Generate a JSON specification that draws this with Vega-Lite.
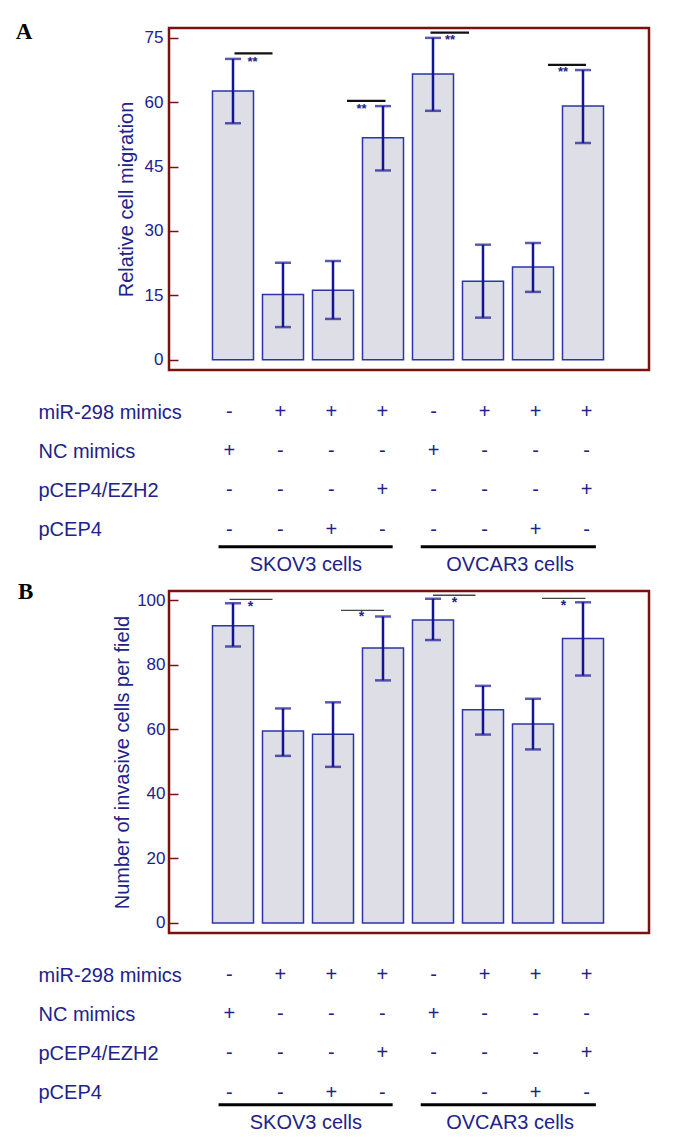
{
  "$schema": "https://vega.github.io/schema/vega-lite/v6.json",
  "background": "white",
  "padding": {"left": 14, "top": 19, "right": 10, "bottom": 10},
  "config": {"font": "Liberation Sans", "view": {"stroke": null}},
  "datasets": {
    "migration": [
      {"bar": 1, "cells": "SKOV3", "mean": 62.6, "lo": 55.1, "hi": 70.1},
      {"bar": 2, "cells": "SKOV3", "mean": 15.2, "lo": 7.6, "hi": 22.6},
      {"bar": 3, "cells": "SKOV3", "mean": 16.2, "lo": 9.5, "hi": 23.0},
      {"bar": 4, "cells": "SKOV3", "mean": 51.7, "lo": 44.1, "hi": 59.1},
      {"bar": 5, "cells": "OVCAR3", "mean": 66.6, "lo": 58.0, "hi": 75.0},
      {"bar": 6, "cells": "OVCAR3", "mean": 18.3, "lo": 9.8, "hi": 26.8},
      {"bar": 7, "cells": "OVCAR3", "mean": 21.6, "lo": 15.8, "hi": 27.2},
      {"bar": 8, "cells": "OVCAR3", "mean": 59.1, "lo": 50.5, "hi": 67.5}
    ],
    "invasion": [
      {"bar": 1, "cells": "SKOV3", "mean": 92.1, "lo": 85.7, "hi": 99.1},
      {"bar": 2, "cells": "SKOV3", "mean": 59.5, "lo": 51.8, "hi": 66.5},
      {"bar": 3, "cells": "SKOV3", "mean": 58.5, "lo": 48.4, "hi": 68.4},
      {"bar": 4, "cells": "SKOV3", "mean": 85.2, "lo": 75.2, "hi": 95.0},
      {"bar": 5, "cells": "OVCAR3", "mean": 93.9, "lo": 87.7, "hi": 100.5},
      {"bar": 6, "cells": "OVCAR3", "mean": 66.1, "lo": 58.4, "hi": 73.5},
      {"bar": 7, "cells": "OVCAR3", "mean": 61.7, "lo": 53.8, "hi": 69.5},
      {"bar": 8, "cells": "OVCAR3", "mean": 88.2, "lo": 76.7, "hi": 99.4}
    ],
    "sigA": [
      {"from": 1.03, "to": 1.79, "y": 71.4, "star_x": 1.39, "star_y": 69.4, "label": "**"},
      {"from": 3.28, "to": 4.05, "y": 60.3, "star_x": 3.57, "star_y": 58.5, "label": "**"},
      {"from": 4.95, "to": 5.72, "y": 76.2, "star_x": 5.34, "star_y": 74.6, "label": "**"},
      {"from": 7.30, "to": 8.06, "y": 68.7, "star_x": 7.60, "star_y": 67.1, "label": "**"}
    ],
    "sigB": [
      {"from": 0.93, "to": 1.79, "y": 100.3, "star_x": 1.35, "star_y": 98.0, "label": "*"},
      {"from": 3.16, "to": 4.02, "y": 96.9, "star_x": 3.57, "star_y": 94.9, "label": "*"},
      {"from": 5.00, "to": 5.85, "y": 101.6, "star_x": 5.43, "star_y": 99.1, "label": "*"},
      {"from": 7.18, "to": 8.05, "y": 100.6, "star_x": 7.61, "star_y": 98.3, "label": "*"}
    ],
    "design": [
      {"factor": "miR-298 mimics", "bar": 1, "sign": "-"},
      {"factor": "miR-298 mimics", "bar": 2, "sign": "+"},
      {"factor": "miR-298 mimics", "bar": 3, "sign": "+"},
      {"factor": "miR-298 mimics", "bar": 4, "sign": "+"},
      {"factor": "miR-298 mimics", "bar": 5, "sign": "-"},
      {"factor": "miR-298 mimics", "bar": 6, "sign": "+"},
      {"factor": "miR-298 mimics", "bar": 7, "sign": "+"},
      {"factor": "miR-298 mimics", "bar": 8, "sign": "+"},
      {"factor": "NC mimics", "bar": 1, "sign": "+"},
      {"factor": "NC mimics", "bar": 2, "sign": "-"},
      {"factor": "NC mimics", "bar": 3, "sign": "-"},
      {"factor": "NC mimics", "bar": 4, "sign": "-"},
      {"factor": "NC mimics", "bar": 5, "sign": "+"},
      {"factor": "NC mimics", "bar": 6, "sign": "-"},
      {"factor": "NC mimics", "bar": 7, "sign": "-"},
      {"factor": "NC mimics", "bar": 8, "sign": "-"},
      {"factor": "pCEP4/EZH2", "bar": 1, "sign": "-"},
      {"factor": "pCEP4/EZH2", "bar": 2, "sign": "-"},
      {"factor": "pCEP4/EZH2", "bar": 3, "sign": "-"},
      {"factor": "pCEP4/EZH2", "bar": 4, "sign": "+"},
      {"factor": "pCEP4/EZH2", "bar": 5, "sign": "-"},
      {"factor": "pCEP4/EZH2", "bar": 6, "sign": "-"},
      {"factor": "pCEP4/EZH2", "bar": 7, "sign": "-"},
      {"factor": "pCEP4/EZH2", "bar": 8, "sign": "+"},
      {"factor": "pCEP4", "bar": 1, "sign": "-"},
      {"factor": "pCEP4", "bar": 2, "sign": "-"},
      {"factor": "pCEP4", "bar": 3, "sign": "+"},
      {"factor": "pCEP4", "bar": 4, "sign": "-"},
      {"factor": "pCEP4", "bar": 5, "sign": "-"},
      {"factor": "pCEP4", "bar": 6, "sign": "-"},
      {"factor": "pCEP4", "bar": 7, "sign": "+"},
      {"factor": "pCEP4", "bar": 8, "sign": "-"}
    ],
    "groups": [
      {"factor": "Cell line", "label": "SKOV3 cells", "from": 0.79, "to": 4.2, "center": 2.5},
      {"factor": "Cell line", "label": "OVCAR3 cells", "from": 4.75, "to": 8.18, "center": 6.5}
    ]
  },
  "spacing": 0,
  "vconcat": [
    {
      "spacing": 30,
      "vconcat": [
        {
          "title": {"text": "A", "orient": "left", "anchor": "end", "angle": 0, "align": "right", "baseline": "top", "font": "Liberation Serif", "fontWeight": "bold", "fontSize": 23, "color": "#000000", "offset": 67, "dy": -7},
          "width": 480,
          "height": 342,
          "view": {"stroke": "#7b1010", "strokeWidth": 2.5},
          "layer": [
            {
              "data": {"name": "migration"},
              "mark": {"type": "bar", "width": 41, "fill": "#dedee6", "stroke": "#2b35a8", "strokeWidth": 1.5},
              "encoding": {
                "x": {"field": "bar", "type": "quantitative", "scale": {"domain": [-0.18, 9.22], "nice": false, "zero": false}, "axis": null},
                "y": {"field": "mean", "type": "quantitative", "title": "Relative cell migration",
                  "scale": {"domain": [-2.4, 77.3], "nice": false, "zero": false},
                  "axis": {"values": [0, 7.5, 15, 22.5, 30, 37.5, 45, 52.5, 60, 67.5, 75], "labelExpr": "datum.value % 15 === 0 ? datum.label : ''", "labelOverlap": false, "domain": false, "grid": false, "tickSize": -9, "tickColor": "#7b1010", "tickWidth": 1.5, "labelPadding": 15, "labelFontSize": 17, "labelColor": "#22228a", "titleFontSize": 20, "titleColor": "#22228a", "titleFontWeight": "normal", "titlePadding": 8}},
                "y2": {"datum": 0}
              }
            },
            {
              "data": {"name": "migration"},
              "mark": {"type": "rule", "color": "#141496", "strokeWidth": 2.5},
              "encoding": {"x": {"field": "bar", "type": "quantitative"}, "y": {"field": "lo", "type": "quantitative"}, "y2": {"field": "hi"}}
            },
            {
              "data": {"name": "migration"},
              "mark": {"type": "tick", "orient": "horizontal", "size": 16, "thickness": 2.5, "color": "#141496"},
              "encoding": {"x": {"field": "bar", "type": "quantitative"}, "y": {"field": "lo", "type": "quantitative"}}
            },
            {
              "data": {"name": "migration"},
              "mark": {"type": "tick", "orient": "horizontal", "size": 16, "thickness": 2.5, "color": "#141496"},
              "encoding": {"x": {"field": "bar", "type": "quantitative"}, "y": {"field": "hi", "type": "quantitative"}}
            },
            {
              "data": {"name": "sigA"},
              "mark": {"type": "rule", "color": "#111111", "strokeWidth": 2.2},
              "encoding": {"x": {"field": "from", "type": "quantitative"}, "x2": {"field": "to"}, "y": {"field": "y", "type": "quantitative"}}
            },
            {
              "data": {"name": "sigA"},
              "mark": {"type": "text", "fontSize": 13, "fontWeight": "bold", "color": "#22228a", "baseline": "middle"},
              "encoding": {"x": {"field": "star_x", "type": "quantitative"}, "y": {"field": "star_y", "type": "quantitative"}, "text": {"field": "label"}}
            }
          ]
        },
        {
          "width": 480,
          "height": 156.8,
          "layer": [
            {
              "data": {"name": "design"},
              "mark": {"type": "text", "fontSize": 20, "color": "#22228a", "baseline": "middle"},
              "encoding": {
                "x": {"field": "bar", "type": "quantitative", "scale": {"domain": [-0.18, 9.22], "nice": false, "zero": false}, "axis": null},
                "y": {"field": "factor", "type": "nominal", "scale": {"type": "point", "domain": ["miR-298 mimics", "NC mimics", "pCEP4/EZH2", "pCEP4", "Cell line"], "padding": 0},
                  "axis": {"title": null, "orient": "left", "domain": false, "ticks": false, "tickSize": 0, "labelAlign": "left", "labelPadding": 131, "labelFontSize": 20, "labelColor": "#22228a", "labelBaseline": "middle", "labelExpr": "datum.value === 'Cell line' ? '' : datum.label"}},
                "text": {"field": "sign"}
              }
            },
            {
              "data": {"name": "groups"},
              "mark": {"type": "rule", "color": "#000000", "strokeWidth": 3, "yOffset": -22},
              "encoding": {"x": {"field": "from", "type": "quantitative"}, "x2": {"field": "to"}, "y": {"field": "factor", "type": "nominal"}}
            },
            {
              "data": {"name": "groups"},
              "mark": {"type": "text", "fontSize": 20, "color": "#22228a", "baseline": "middle", "dy": -4},
              "encoding": {"x": {"field": "center", "type": "quantitative"}, "y": {"field": "factor", "type": "nominal"}, "text": {"field": "label"}}
            }
          ]
        }
      ]
    },
    {
      "spacing": 30,
      "vconcat": [
        {
          "title": {"text": "B", "orient": "left", "anchor": "end", "angle": 0, "align": "right", "baseline": "top", "font": "Liberation Serif", "fontWeight": "bold", "fontSize": 23, "color": "#000000", "offset": 64, "dy": -10},
          "width": 480,
          "height": 342,
          "view": {"stroke": "#7b1010", "strokeWidth": 2.5},
          "layer": [
            {
              "data": {"name": "invasion"},
              "mark": {"type": "bar", "width": 41, "fill": "#dedee6", "stroke": "#2b35a8", "strokeWidth": 1.5},
              "encoding": {
                "x": {"field": "bar", "type": "quantitative", "scale": {"domain": [-0.18, 9.22], "nice": false, "zero": false}, "axis": null},
                "y": {"field": "mean", "type": "quantitative", "title": "Number of invasive cells per field",
                  "scale": {"domain": [-3.1, 102.9], "nice": false, "zero": false},
                  "axis": {"values": [0, 10, 20, 30, 40, 50, 60, 70, 80, 90, 100], "labelExpr": "datum.value % 20 === 0 ? datum.label : ''", "labelOverlap": false, "domain": false, "grid": false, "tickSize": -9, "tickColor": "#7b1010", "tickWidth": 1.5, "labelPadding": 13, "labelFontSize": 17, "labelColor": "#22228a", "titleFontSize": 20, "titleColor": "#22228a", "titleFontWeight": "normal", "titlePadding": 4}},
                "y2": {"datum": 0}
              }
            },
            {
              "data": {"name": "invasion"},
              "mark": {"type": "rule", "color": "#141496", "strokeWidth": 2.5},
              "encoding": {"x": {"field": "bar", "type": "quantitative"}, "y": {"field": "lo", "type": "quantitative"}, "y2": {"field": "hi"}}
            },
            {
              "data": {"name": "invasion"},
              "mark": {"type": "tick", "orient": "horizontal", "size": 16, "thickness": 2.5, "color": "#141496"},
              "encoding": {"x": {"field": "bar", "type": "quantitative"}, "y": {"field": "lo", "type": "quantitative"}}
            },
            {
              "data": {"name": "invasion"},
              "mark": {"type": "tick", "orient": "horizontal", "size": 16, "thickness": 2.5, "color": "#141496"},
              "encoding": {"x": {"field": "bar", "type": "quantitative"}, "y": {"field": "hi", "type": "quantitative"}}
            },
            {
              "data": {"name": "sigB"},
              "mark": {"type": "rule", "color": "#444444", "strokeWidth": 1.4},
              "encoding": {"x": {"field": "from", "type": "quantitative"}, "x2": {"field": "to"}, "y": {"field": "y", "type": "quantitative"}}
            },
            {
              "data": {"name": "sigB"},
              "mark": {"type": "text", "fontSize": 14, "fontWeight": "bold", "color": "#22228a", "baseline": "middle"},
              "encoding": {"x": {"field": "star_x", "type": "quantitative"}, "y": {"field": "star_y", "type": "quantitative"}, "text": {"field": "label"}}
            }
          ]
        },
        {
          "width": 480,
          "height": 156.8,
          "layer": [
            {
              "data": {"name": "design"},
              "mark": {"type": "text", "fontSize": 20, "color": "#22228a", "baseline": "middle"},
              "encoding": {
                "x": {"field": "bar", "type": "quantitative", "scale": {"domain": [-0.18, 9.22], "nice": false, "zero": false}, "axis": null},
                "y": {"field": "factor", "type": "nominal", "scale": {"type": "point", "domain": ["miR-298 mimics", "NC mimics", "pCEP4/EZH2", "pCEP4", "Cell line"], "padding": 0},
                  "axis": {"title": null, "orient": "left", "domain": false, "ticks": false, "tickSize": 0, "labelAlign": "left", "labelPadding": 131, "labelFontSize": 20, "labelColor": "#22228a", "labelBaseline": "middle", "labelExpr": "datum.value === 'Cell line' ? '' : datum.label"}},
                "text": {"field": "sign"}
              }
            },
            {
              "data": {"name": "groups"},
              "mark": {"type": "rule", "color": "#000000", "strokeWidth": 3, "yOffset": -27},
              "encoding": {"x": {"field": "from", "type": "quantitative"}, "x2": {"field": "to"}, "y": {"field": "factor", "type": "nominal"}}
            },
            {
              "data": {"name": "groups"},
              "mark": {"type": "text", "fontSize": 20, "color": "#22228a", "baseline": "middle", "dy": -9},
              "encoding": {"x": {"field": "center", "type": "quantitative"}, "y": {"field": "factor", "type": "nominal"}, "text": {"field": "label"}}
            }
          ]
        }
      ]
    }
  ]
}
